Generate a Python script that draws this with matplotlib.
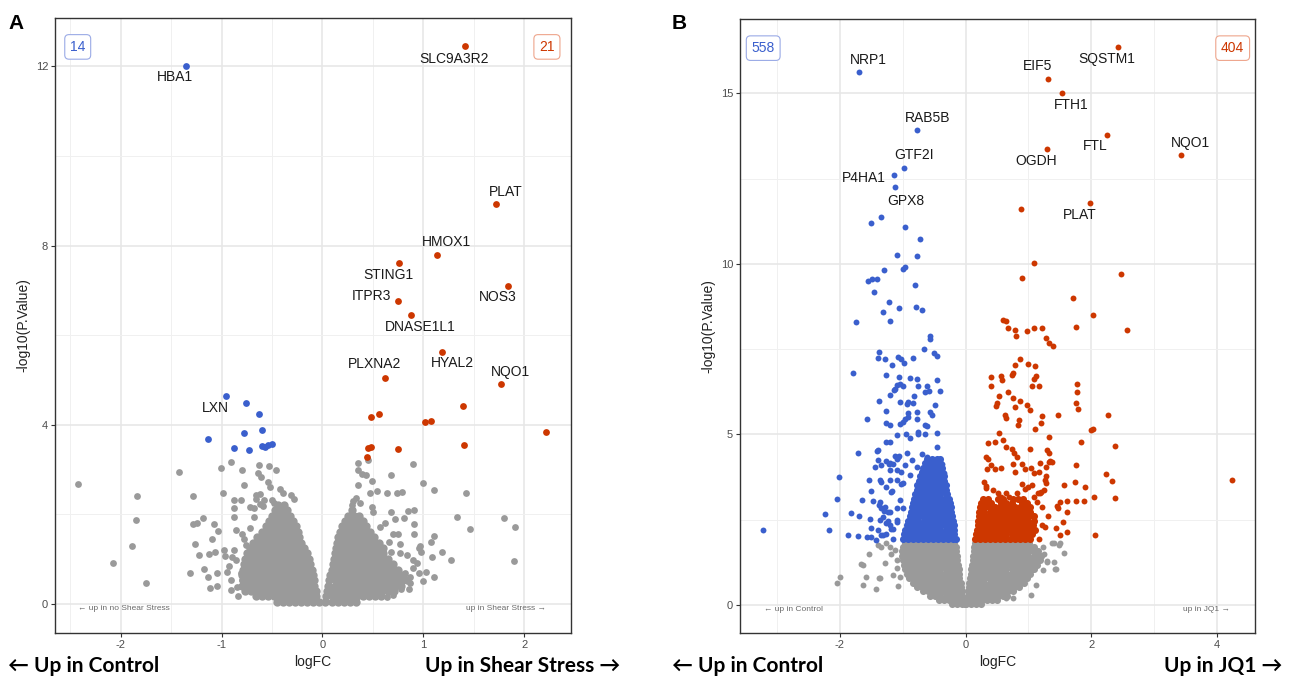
import matplotlib
matplotlib.use('Agg')
import matplotlib.pyplot as plt
import numpy as np

plt.rcParams['font.family'] = ['Liberation Sans', 'DejaVu Sans']
plt.rcParams['axes.unicode_minus'] = False

GRAY = '#9a9a9a'
BLUE = '#3a5fcd'
RED = '#cd3700'

# ---------------- Panel A data (logFC, -log10 P) ----------------
a_up_genes = ['SLC9A3R2', 'PLAT', 'HMOX1', 'STING1', 'NOS3', 'ITPR3', 'DNASE1L1',
              'HYAL2', 'PLXNA2', 'NQO1']
a_up_x = [1.41, 1.72, 1.14, 0.76, 1.84, 0.75, 0.875, 1.19, 0.62, 1.77]
a_up_y = [12.46, 8.92, 7.80, 7.61, 7.10, 6.76, 6.45, 5.625, 5.05, 4.90]
a_up_other = [(1.39, 4.42), (0.485, 4.17), (0.565, 4.23), (1.02, 4.06), (1.08, 4.08),
              (2.22, 3.85), (0.455, 3.49), (0.48, 3.50), (0.75, 3.46), (1.40, 3.56),
              (0.445, 3.28)]
a_down_genes = ['HBA1', 'LXN']
a_down_x = [-1.349, -0.96]
a_down_y = [12.02, 4.64]
a_down_other = [(-0.76, 4.49), (-0.63, 4.23), (-1.135, 3.68), (-0.78, 3.81), (-0.60, 3.88),
                (-0.88, 3.48), (-0.726, 3.43), (-0.60, 3.53), (-0.567, 3.51), (-0.535, 3.54),
                (-0.50, 3.58)]
a_gray_scatter = [
    (-2.42, 2.67), (-1.84, 2.40), (-1.85, 1.87), (-1.89, 1.29), (-2.08, 0.92), (-1.75, 0.46),
    (-1.42, 2.95), (-1.28, 2.40), (-1.01, 3.04), (-0.91, 3.18), (-0.80, 2.99), (-0.63, 3.10),
    (-0.53, 3.07), (-0.46, 2.99), (-0.64, 2.93), (-0.61, 2.84), (-0.78, 2.66), (-0.54, 2.73),
    (-0.52, 2.62), (-0.42, 2.57), (-0.99, 2.48), (-0.88, 2.32), (-0.81, 2.32), (-0.66, 2.43),
    (-0.62, 2.46), (-0.66, 2.34), (-0.58, 2.32), (-0.39, 2.47), (-0.31, 2.43), (-0.28, 2.34),
    (-0.88, 2.15), (-0.72, 2.17), (-0.68, 2.15), (-0.62, 2.23), (-0.59, 2.19), (-0.50, 2.32),
    (-0.48, 2.25), (-0.41, 2.17), (-0.42, 2.06), (-0.88, 1.95), (-0.68, 1.95), (-1.18, 1.91),
    (-1.24, 1.80), (-1.28, 1.79), (-1.07, 1.78), (-1.03, 1.63), (-0.86, 1.65), (-0.72, 1.70),
    (-1.26, 1.35), (-1.09, 1.44), (-0.80, 1.56), (-0.78, 1.44), (-0.76, 1.32), (-1.22, 1.09),
    (-1.12, 1.11), (-1.06, 1.15), (-0.98, 1.21), (-0.97, 1.08), (-0.86, 0.99), (-1.31, 0.69),
    (-1.17, 0.78), (-1.13, 0.61), (-1.04, 0.69), (-1.11, 0.35), (-1.04, 0.41), (-0.91, 0.54),
    (-0.91, 0.31), (-0.81, 0.69), (-0.80, 0.54), (-0.93, 0.85), (-0.95, 0.72), (-0.85, 0.38),
    (-0.84, 0.18), (-0.88, 1.20), (-0.90, 1.05),
    (0.35, 3.15), (0.45, 3.21), (0.35, 2.99), (0.39, 2.90), (0.43, 2.89), (0.49, 2.75),
    (0.35, 2.66), (0.68, 2.89), (0.90, 3.13), (1.00, 2.69), (1.11, 2.54), (1.42, 2.47),
    (0.47, 2.47), (0.54, 2.52), (0.64, 2.48), (0.74, 2.48), (0.79, 2.51), (0.33, 2.36),
    (0.37, 2.25), (0.49, 2.17), (0.50, 2.06), (0.68, 2.05), (0.85, 2.08), (0.91, 2.09),
    (0.72, 1.90), (0.81, 1.91), (1.33, 1.94), (1.46, 1.67), (0.91, 1.79), (0.57, 1.71),
    (0.70, 1.57), (0.75, 1.56), (0.91, 1.57), (1.11, 1.52), (1.08, 1.39), (0.66, 1.38),
    (0.77, 1.34), (0.97, 1.30), (0.68, 1.15), (0.77, 1.14), (0.84, 1.09), (0.96, 1.24),
    (0.98, 1.15), (1.09, 1.04), (1.19, 1.15), (1.27, 0.99), (0.90, 0.98), (0.94, 0.92),
    (0.96, 0.70), (1.03, 0.72), (1.11, 0.61), (1.00, 0.51), (0.87, 0.61), (0.87, 0.46),
    (0.78, 0.34), (0.86, 0.33), (0.64, 0.15), (1.80, 1.93), (1.91, 1.72), (1.90, 0.97),
    (0.30, 2.30), (0.29, 2.20), (0.62, 1.80), (0.82, 0.70), (0.70, 0.20), (0.90, 0.80)]
# dense core of non-significant genes, read row by row (-log10 P : logFC values)
a_gray_core = {
    0.05: [-0.45, -0.39, -0.33, -0.27, -0.21, -0.15, -0.09, -0.03, 0.03, 0.09, 0.15, 0.21, 0.27, 0.33],
    0.17: [-0.66, -0.60, -0.54, -0.48, -0.42, -0.36, -0.30, -0.24, -0.18, -0.12, -0.06,
           0.04, 0.10, 0.16, 0.22, 0.28, 0.34, 0.40, 0.46, 0.52, 0.58],
    0.29: [-0.77, -0.71, -0.65, -0.59, -0.53, -0.47, -0.41, -0.35, -0.29, -0.23, -0.17, -0.11, -0.06,
           0.05, 0.11, 0.17, 0.23, 0.29, 0.35, 0.41, 0.47, 0.53, 0.59, 0.65, 0.71],
    0.41: [-0.80, -0.74, -0.68, -0.62, -0.56, -0.50, -0.44, -0.38, -0.32, -0.26, -0.20, -0.14, -0.08,
           0.06, 0.12, 0.18, 0.24, 0.30, 0.36, 0.42, 0.48, 0.54, 0.60, 0.66, 0.72, 0.78],
    0.53: [-0.79, -0.73, -0.67, -0.61, -0.55, -0.49, -0.43, -0.37, -0.31, -0.25, -0.19, -0.13, -0.08,
           0.07, 0.13, 0.19, 0.25, 0.31, 0.37, 0.43, 0.49, 0.55, 0.61, 0.67, 0.73, 0.79, 0.84],
    0.65: [-0.80, -0.74, -0.68, -0.62, -0.56, -0.50, -0.44, -0.38, -0.32, -0.26, -0.20, -0.14, -0.09,
           0.08, 0.14, 0.20, 0.26, 0.32, 0.38, 0.44, 0.50, 0.56, 0.62, 0.68, 0.74, 0.80],
    0.77: [-0.79, -0.73, -0.67, -0.61, -0.55, -0.49, -0.43, -0.37, -0.31, -0.25, -0.19, -0.13, -0.10,
           0.09, 0.15, 0.21, 0.27, 0.33, 0.39, 0.45, 0.51, 0.57, 0.63, 0.69, 0.75],
    0.89: [-0.78, -0.72, -0.66, -0.60, -0.54, -0.48, -0.42, -0.36, -0.30, -0.24, -0.18, -0.12,
           0.10, 0.16, 0.22, 0.28, 0.34, 0.40, 0.46, 0.52, 0.58, 0.64, 0.70],
    1.01: [-0.77, -0.71, -0.65, -0.59, -0.53, -0.47, -0.41, -0.35, -0.29, -0.23, -0.17, -0.13,
           0.11, 0.17, 0.23, 0.29, 0.35, 0.41, 0.47, 0.53, 0.59, 0.65],
    1.13: [-0.75, -0.69, -0.63, -0.57, -0.51, -0.45, -0.39, -0.33, -0.27, -0.21, -0.15,
           0.12, 0.18, 0.24, 0.30, 0.36, 0.42, 0.48, 0.54, 0.60],
    1.25: [-0.72, -0.66, -0.60, -0.54, -0.48, -0.42, -0.36, -0.30, -0.24, -0.18,
           0.13, 0.19, 0.25, 0.31, 0.37, 0.43, 0.49, 0.55, 0.60],
    1.37: [-0.69, -0.63, -0.57, -0.51, -0.45, -0.39, -0.33, -0.27, -0.21,
           0.14, 0.20, 0.26, 0.32, 0.38, 0.44, 0.50, 0.56],
    1.49: [-0.65, -0.59, -0.53, -0.47, -0.41, -0.35, -0.29, -0.23,
           0.15, 0.21, 0.27, 0.33, 0.39, 0.45, 0.51],
    1.61: [-0.60, -0.54, -0.48, -0.42, -0.36, -0.30, -0.24, 0.17, 0.23, 0.29, 0.35, 0.41, 0.47],
    1.73: [-0.56, -0.50, -0.44, -0.38, -0.32, -0.26, 0.19, 0.25, 0.31, 0.37, 0.43],
    1.85: [-0.53, -0.47, -0.41, -0.35, -0.29, 0.22, 0.28, 0.34, 0.40],
    1.97: [-0.50, -0.44, -0.38, -0.32, 0.25, 0.31, 0.36],
    2.09: [-0.47, -0.41, -0.35, 0.29],
    2.21: [-0.44, -0.38],
}

# ---------------- Panel B data ----------------
b_up_genes = ['SQSTM1', 'EIF5', 'FTH1', 'FTL', 'OGDH', 'NQO1', 'PLAT']
b_up_x = [2.43, 1.315, 1.53, 2.245, 1.29, 3.42, 1.98]
b_up_y = [16.37, 15.43, 15.01, 13.78, 13.37, 13.20, 11.79]
b_down_genes = ['NRP1', 'RAB5B', 'GTF2I', 'P4HA1', 'GPX8']
b_down_x = [-1.70, -0.77, -0.98, -1.14, -1.12]
b_down_y = [15.64, 13.93, 12.82, 12.62, 12.24]
b_up_other = [
    (0.876, 11.60), (1.09, 10.02), (0.90, 9.60), (2.47, 9.69), (1.71, 9.00), (2.02, 8.50),
    (1.76, 8.14), (2.57, 8.06), (0.59, 8.36), (0.64, 8.33), (0.67, 8.12), (0.79, 8.06),
    (0.80, 7.89), (0.97, 8.04), (1.09, 8.13), (1.21, 8.13), (1.28, 7.84), (1.32, 7.67),
    (1.39, 7.60), (0.87, 7.20), (0.79, 7.04), (0.76, 6.79), (0.74, 6.74), (0.99, 7.08),
    (1.10, 7.01), (1.12, 6.71), (1.08, 6.62), (1.06, 6.43), (1.16, 6.42), (0.40, 6.68),
    (0.41, 6.41), (0.57, 6.72), (0.58, 6.60), (0.67, 6.25), (0.76, 6.08), (0.87, 5.97),
    (0.53, 6.13), (0.50, 5.92), (0.48, 5.84), (0.79, 5.80), (0.98, 5.86), (1.02, 5.72),
    (0.63, 5.58), (0.64, 5.49), (0.85, 5.43), (0.83, 5.28), (1.22, 5.54), (1.20, 5.33),
    (1.11, 5.16), (1.47, 5.57), (1.77, 6.48), (1.77, 6.24), (1.76, 5.91), (1.78, 5.75),
    (2.26, 5.56), (2.00, 5.13), (2.02, 5.15), (2.37, 4.66), (2.23, 3.83), (2.33, 3.65),
    (2.37, 3.15), (2.05, 3.18), (1.90, 3.45), (1.74, 3.61), (1.83, 4.79), (1.75, 4.11),
    (1.32, 4.94), (2.06, 2.04), (1.57, 3.52), (1.88, 3.06), (1.76, 3.06), (1.62, 3.06),
    (1.50, 3.03), (1.47, 2.84), (1.45, 2.90), (1.62, 2.72), (1.55, 2.44), (1.61, 2.15),
    (1.50, 2.04), (1.44, 2.27), (1.17, 1.93), (1.30, 4.55), (1.37, 4.19), (1.33, 4.19),
    (1.18, 4.16), (1.02, 4.57), (1.28, 4.06), (1.26, 3.67), (1.28, 3.57), (1.20, 3.32),
    (1.15, 3.28), (1.14, 3.03), (1.22, 2.88), (1.21, 2.35), (1.27, 2.30), (1.31, 2.62),
    (4.245, 3.67),
    (0.53, 5.03), (0.36, 4.76), (0.47, 4.79), (0.60, 4.84), (0.36, 4.27), (0.41, 4.11),
    (0.47, 3.98), (0.57, 4.01), (0.64, 4.64), (0.73, 4.57), (0.77, 4.45), (0.81, 4.35),
    (0.76, 4.13), (0.79, 3.91), (0.89, 4.13), (0.94, 3.98), (1.04, 4.01), (1.08, 3.86),
    (1.16, 3.89), (1.32, 4.45), (1.35, 4.21), (1.28, 3.78), (1.24, 3.37), (0.33, 3.43),
    (0.44, 3.37), (0.51, 3.28), (0.65, 3.28), (0.69, 3.16), (0.81, 3.28), (0.89, 3.55),
    (0.94, 3.39), (1.00, 3.47), (1.05, 3.51), (1.09, 3.18), (1.18, 3.28), (0.86, 3.08),
    (0.57, 3.18), (0.33, 4.35), (0.34, 4.00), (0.33, 3.50), (0.30, 3.62)]
b_down_other = [
    (-1.51, 11.20), (-1.35, 11.38), (-0.97, 11.08), (-0.73, 10.73), (-1.09, 10.25),
    (-0.78, 10.23), (-1.00, 9.85), (-0.96, 9.92), (-1.30, 9.81), (-1.56, 9.50), (-1.49, 9.57),
    (-1.41, 9.56), (-1.46, 9.19), (-0.80, 9.37), (-1.22, 8.89), (-1.06, 8.70), (-0.79, 8.73),
    (-0.70, 8.66), (-1.32, 8.58), (-1.20, 8.34), (-1.75, 8.29), (-0.56, 7.90), (-0.56, 7.79),
    (-0.66, 7.50), (-0.50, 7.38), (-0.45, 7.30), (-1.38, 7.42), (-1.39, 7.25), (-1.29, 7.20),
    (-1.17, 7.04), (-1.08, 7.26), (-1.03, 7.21), (-0.98, 7.09), (-0.83, 7.23), (-1.80, 6.79),
    (-1.27, 6.74), (-1.06, 6.68), (-0.88, 6.66), (-0.77, 6.63), (-0.45, 6.60), (-1.10, 6.45),
    (-1.04, 6.49), (-1.14, 6.30), (-0.99, 6.41), (-1.13, 6.33), (-0.76, 6.42), (-0.62, 6.42),
    (-0.65, 6.25), (-0.59, 6.28), (-0.40, 6.28), (-1.21, 6.15), (-0.82, 6.14), (-1.38, 5.97),
    (-1.04, 5.96), (-0.94, 5.89), (-0.91, 5.95), (-0.83, 5.91), (-0.48, 5.86), (-1.26, 5.68),
    (-0.92, 5.62), (-0.77, 5.66), (-0.57, 5.66), (-0.54, 5.57), (-1.57, 5.46), (-0.97, 5.45),
    (-0.91, 5.50), (-0.78, 5.45), (-1.27, 5.34), (-1.21, 5.29), (-1.05, 5.30), (-0.99, 5.37),
    (-0.64, 5.29), (-0.62, 5.25), (-0.76, 5.08), (-0.75, 5.01), (-0.65, 5.01), (-0.46, 5.04),
    (-1.09, 4.97), (-0.95, 5.01), (-0.89, 4.89), (-1.21, 4.78), (-1.41, 4.53), (-1.72, 4.47),
    (-1.44, 4.06), (-1.54, 3.66), (-1.51, 3.35), (-1.65, 3.08), (-2.02, 3.76), (-2.04, 3.12),
    (-2.24, 2.67), (-2.17, 2.19), (-1.82, 2.69), (-1.69, 2.62), (-1.52, 2.53), (-1.87, 2.05),
    (-1.72, 2.01), (-1.57, 1.99), (-1.51, 2.26), (-1.39, 4.25), (-1.26, 4.22), (-1.21, 4.15),
    (-1.10, 4.27), (-1.06, 4.37), (-0.94, 4.45), (-0.86, 4.25), (-1.21, 3.96), (-1.03, 3.91),
    (-0.97, 4.11), (-0.89, 3.81), (-0.70, 4.43), (-0.62, 4.35), (-0.52, 4.25), (-0.46, 4.64),
    (-0.38, 4.13), (-0.35, 3.86), (-1.34, 3.62), (-1.26, 3.47), (-1.18, 3.32), (-1.10, 3.67),
    (-0.99, 3.57), (-0.78, 4.06), (-0.57, 3.86), (-1.36, 3.03), (-1.29, 2.88), (-1.21, 2.74),
    (-1.10, 2.84), (-1.36, 2.49), (-1.26, 2.40), (-1.18, 2.22), (-1.31, 2.05), (-1.42, 1.91),
    (-1.50, 2.00), (-3.22, 2.19), (-1.47, 3.04), (-1.40, 4.54), (-1.39, 2.20), (-1.38, 2.94),
    (-1.34, 2.84), (-1.30, 2.77), (-1.23, 2.74), (-1.36, 3.66), (-1.35, 4.11), (-1.32, 2.59),
    (-1.27, 4.77), (-1.22, 4.13), (-1.20, 3.66), (-1.17, 3.33), (-1.16, 4.13), (-1.12, 4.38),
    (-1.09, 3.96), (-1.07, 4.33), (-1.24, 2.45), (-1.21, 2.34), (-1.15, 2.22), (-1.09, 2.50),
    (-1.03, 3.54), (-1.04, 3.08), (-1.00, 2.85), (-1.35, 2.05), (-1.27, 2.08), (-1.15, 1.94),
    (-1.09, 2.43)]
b_down_core = {
    1.95: [-1.00, -0.92, -0.84, -0.76, -0.68, -0.60, -0.52, -0.44, -0.36, -0.28, -0.20, -0.16],
    2.08: [-0.98, -0.90, -0.82, -0.74, -0.66, -0.58, -0.50, -0.42, -0.34, -0.26, -0.18],
    2.21: [-0.96, -0.88, -0.80, -0.72, -0.64, -0.56, -0.48, -0.40, -0.32, -0.24, -0.18],
    2.34: [-0.94, -0.86, -0.78, -0.70, -0.62, -0.54, -0.46, -0.38, -0.30, -0.22, -0.19],
    2.47: [-0.91, -0.83, -0.75, -0.67, -0.59, -0.51, -0.43, -0.35, -0.27, -0.20],
    2.60: [-0.89, -0.81, -0.73, -0.65, -0.57, -0.49, -0.41, -0.33, -0.25, -0.21],
    2.73: [-0.87, -0.79, -0.71, -0.63, -0.55, -0.47, -0.39, -0.31, -0.23],
    2.86: [-0.85, -0.77, -0.69, -0.61, -0.53, -0.45, -0.37, -0.29, -0.24],
    2.99: [-0.84, -0.76, -0.68, -0.60, -0.52, -0.44, -0.36, -0.28, -0.25],
    3.12: [-0.82, -0.74, -0.66, -0.58, -0.50, -0.42, -0.34, -0.27],
    3.25: [-0.80, -0.72, -0.64, -0.56, -0.48, -0.40, -0.32, -0.29],
    3.38: [-0.78, -0.70, -0.62, -0.54, -0.46, -0.38, -0.31],
    3.51: [-0.77, -0.69, -0.61, -0.53, -0.45, -0.37, -0.32],
    3.64: [-0.74, -0.66, -0.58, -0.50, -0.42, -0.34],
    3.77: [-0.72, -0.64, -0.56, -0.48, -0.40, -0.35],
    3.90: [-0.70, -0.62, -0.54, -0.46, -0.38],
    4.03: [-0.68, -0.60, -0.52, -0.44, -0.38],
    4.16: [-0.65, -0.57, -0.49, -0.41],
    4.29: [-0.62, -0.54, -0.46, -0.41],
}
b_up_core = {
    1.95: [0.15, 0.23, 0.31, 0.39, 0.47, 0.55, 0.63, 0.71, 0.79, 0.87, 0.95, 1.03],
    2.08: [0.17, 0.25, 0.33, 0.41, 0.49, 0.57, 0.65, 0.73, 0.81, 0.89, 0.97, 1.05],
    2.21: [0.18, 0.26, 0.34, 0.42, 0.50, 0.58, 0.66, 0.74, 0.82, 0.90, 0.98, 1.06, 1.10],
    2.34: [0.19, 0.27, 0.35, 0.43, 0.51, 0.59, 0.67, 0.75, 0.83, 0.91, 0.99, 1.07],
    2.47: [0.20, 0.28, 0.36, 0.44, 0.52, 0.60, 0.68, 0.76, 0.84, 0.92, 1.00, 1.08],
    2.60: [0.21, 0.29, 0.37, 0.45, 0.53, 0.61, 0.69, 0.77, 0.85, 0.93, 1.01, 1.09],
    2.73: [0.22, 0.30, 0.38, 0.46, 0.54, 0.62, 0.70, 0.78, 0.86, 0.94, 1.02],
    2.86: [0.23, 0.31, 0.39, 0.47, 0.55, 0.63, 0.71, 0.79, 0.87, 0.95, 1.03],
    2.99: [0.25, 0.33, 0.41, 0.57, 0.65, 0.73, 0.89, 0.97],
    3.12: [0.27, 0.35, 0.51, 0.59, 0.75, 0.83, 0.91],
}
b_gray_scatter = [
    (-2.05, 0.65), (-2.00, 0.83), (-1.63, 0.59), (-1.59, 0.83), (-1.64, 1.17), (-1.53, 1.50),
    (-1.42, 0.47), (-1.36, 0.80), (-1.39, 1.76), (-1.34, 1.71), (-1.26, 1.81), (-1.15, 0.88),
    (-1.07, 0.57), (-1.05, 0.83), (-1.18, 1.50), (-1.10, 1.32), (-1.29, 1.22), (-1.38, 0.78),
    (-1.67, 1.20), (-1.20, 1.70), (-1.12, 1.60), (-1.10, 1.10),
    (1.40, 1.81), (1.49, 1.76), (1.57, 1.52), (1.23, 1.71), (1.30, 1.27), (1.40, 1.27),
    (1.42, 1.05), (1.23, 1.03), (1.04, 0.29), (0.65, 0.20), (0.76, 0.20), (1.50, 1.81),
    (1.37, 1.81), (1.29, 1.29), (1.44, 1.06), (1.12, 0.60), (1.25, 1.50)]
b_gray_core = {
    1.83: [-0.97, -0.89, -0.81, -0.73, -0.65, -0.57, -0.49, -0.41, -0.33, -0.25, -0.18,
           0.15, 0.23, 0.31, 0.39, 0.47, 0.55, 0.63, 0.71, 0.79, 0.87, 0.95, 1.01],
    1.70: [-1.00, -0.92, -0.84, -0.76, -0.68, -0.60, -0.52, -0.44, -0.36, -0.28, -0.20, -0.16,
           0.14, 0.22, 0.30, 0.38, 0.46, 0.54, 0.62, 0.70, 0.78, 0.86, 0.94, 1.02, 1.08],
    1.57: [-1.02, -0.94, -0.86, -0.78, -0.70, -0.62, -0.54, -0.46, -0.38, -0.30, -0.22, -0.15,
           0.13, 0.21, 0.29, 0.37, 0.45, 0.53, 0.61, 0.69, 0.77, 0.85, 0.93, 1.01, 1.09, 1.15],
    1.44: [-1.01, -0.93, -0.85, -0.77, -0.69, -0.61, -0.53, -0.45, -0.37, -0.29, -0.21, -0.14,
           0.12, 0.20, 0.28, 0.36, 0.44, 0.52, 0.60, 0.68, 0.76, 0.84, 0.92, 1.00, 1.08, 1.16, 1.20],
    1.31: [-1.00, -0.92, -0.84, -0.76, -0.68, -0.60, -0.52, -0.44, -0.36, -0.28, -0.20, -0.13,
           0.11, 0.19, 0.27, 0.35, 0.43, 0.51, 0.59, 0.67, 0.75, 0.83, 0.91, 0.99, 1.07, 1.15, 1.19],
    1.18: [-0.98, -0.90, -0.82, -0.74, -0.66, -0.58, -0.50, -0.42, -0.34, -0.26, -0.18, -0.12,
           0.10, 0.18, 0.26, 0.34, 0.42, 0.50, 0.58, 0.66, 0.74, 0.82, 0.90, 0.98, 1.06, 1.13],
    1.05: [-0.96, -0.88, -0.80, -0.72, -0.64, -0.56, -0.48, -0.40, -0.32, -0.24, -0.16, -0.11,
           0.09, 0.17, 0.25, 0.33, 0.41, 0.49, 0.57, 0.65, 0.73, 0.81, 0.89, 0.97, 1.05, 1.08],
    0.92: [-0.94, -0.86, -0.78, -0.70, -0.62, -0.54, -0.46, -0.38, -0.30, -0.22, -0.14, -0.10,
           0.08, 0.16, 0.24, 0.32, 0.40, 0.48, 0.56, 0.64, 0.72, 0.80, 0.88, 0.96, 1.03],
    0.79: [-0.90, -0.82, -0.74, -0.66, -0.58, -0.50, -0.42, -0.34, -0.26, -0.18, -0.10,
           0.07, 0.15, 0.23, 0.31, 0.39, 0.47, 0.55, 0.63, 0.71, 0.79, 0.87, 0.95, 0.98],
    0.66: [-0.84, -0.76, -0.68, -0.60, -0.52, -0.44, -0.36, -0.28, -0.20, -0.12, -0.08,
           0.06, 0.14, 0.22, 0.30, 0.38, 0.46, 0.54, 0.62, 0.70, 0.78, 0.86, 0.93],
    0.53: [-0.77, -0.69, -0.61, -0.53, -0.45, -0.37, -0.29, -0.21, -0.13, -0.07,
           0.05, 0.13, 0.21, 0.29, 0.37, 0.45, 0.53, 0.61, 0.69, 0.77, 0.85],
    0.40: [-0.68, -0.60, -0.52, -0.44, -0.36, -0.28, -0.20, -0.12, -0.06,
           0.04, 0.12, 0.20, 0.28, 0.36, 0.44, 0.52, 0.60, 0.68, 0.76],
    0.27: [-0.56, -0.48, -0.40, -0.32, -0.24, -0.16, -0.08, -0.05,
           0.03, 0.11, 0.19, 0.27, 0.35, 0.43, 0.51, 0.59, 0.66],
    0.14: [-0.42, -0.34, -0.26, -0.18, -0.10, -0.03, 0.02, 0.10, 0.18, 0.26, 0.34, 0.42, 0.50],
    0.03: [-0.22, -0.14, -0.06, -0.01, 0.01, 0.09, 0.17, 0.25],
}

# label text anchors (data coords) for the gene names
a_label_pos = {'SLC9A3R2': (1.30, 12.17), 'PLAT': (1.82, 9.20), 'HMOX1': (1.23, 8.07),
               'STING1': (0.65, 7.34), 'NOS3': (1.74, 6.85), 'ITPR3': (0.49, 6.875),
               'DNASE1L1': (0.97, 6.19), 'HYAL2': (1.29, 5.37), 'PLXNA2': (0.52, 5.35),
               'NQO1': (1.865, 5.17), 'HBA1': (-1.457, 11.76), 'LXN': (-1.06, 4.37)}
b_label_pos = {'SQSTM1': (2.25, 16.01), 'EIF5': (1.14, 15.81), 'FTH1': (1.677, 14.65),
               'FTL': (2.07, 13.47), 'OGDH': (1.12, 13.02), 'NQO1': (3.57, 13.54),
               'PLAT': (1.81, 11.44), 'NRP1': (-1.55, 15.98), 'RAB5B': (-0.61, 14.27),
               'GTF2I': (-0.82, 13.20), 'P4HA1': (-1.62, 12.51), 'GPX8': (-0.955, 11.85)}
a_counts = (14, 21)
b_counts = (558, 404)


def rows_xy(rows):
    xs, ys = [], []
    for yv, xl in rows.items():
        xs.extend(xl)
        ys.extend([yv] * len(xl))
    return np.array(xs), np.array(ys)


def pairs_xy(p):
    arr = np.array(p)
    return arr[:, 0], arr[:, 1]


def style(ax, xlim, ylim, xmaj, xmin, ymaj, ymin):
    ax.set_xlim(*xlim)
    ax.set_ylim(*ylim)
    ax.set_xticks(xmaj)
    ax.set_xticks(xmin, minor=True)
    ax.set_yticks(ymaj)
    ax.set_yticks(ymin, minor=True)
    ax.grid(which='major', color='#e6e6e6', lw=1.1)
    ax.grid(which='minor', color='#f0f0f0', lw=0.7)
    ax.set_axisbelow(True)
    ax.tick_params(which='major', length=3, width=0.8, color='#333333', labelsize=8,
                   labelcolor='#4d4d4d', pad=2)
    ax.tick_params(which='minor', length=0)
    for s in ax.spines.values():
        s.set_color('#333333')
        s.set_linewidth(1.0)
    ax.set_xlabel('logFC', fontsize=10, color='#222222', labelpad=4)
    ax.set_ylabel('-log10(P.Value)', fontsize=10, color='#222222', labelpad=4)


def count_box(ax, xf, n, col, edge):
    ax.text(xf, 0.953, str(n), transform=ax.transAxes, ha='center', va='center',
            fontsize=10, color=col, zorder=5,
            bbox=dict(boxstyle='round,pad=0.38,rounding_size=0.3', fc='white', ec=edge, lw=0.8))


fig = plt.figure(figsize=(12.89, 6.80), dpi=100)
axA = fig.add_axes([0.0427, 0.0696, 0.4000, 0.9039])
axB = fig.add_axes([0.5741, 0.0696, 0.3998, 0.9020])

# ---- panel A ----
sA = 24
gx, gy = rows_xy(a_gray_core)
axA.scatter(gx, gy, s=36, c=GRAY, lw=0, zorder=2)
gx, gy = pairs_xy(a_gray_scatter)
axA.scatter(gx, gy, s=sA, c=GRAY, lw=0, zorder=2)
bx, by = pairs_xy(a_down_other)
axA.scatter(list(bx) + a_down_x, list(by) + a_down_y, s=sA, c=BLUE, lw=0, zorder=3)
rx, ry = pairs_xy(a_up_other)
axA.scatter(list(rx) + a_up_x, list(ry) + a_up_y, s=sA, c=RED, lw=0, zorder=3)
for g, (lx, ly) in a_label_pos.items():
    axA.text(lx, ly, g, ha='center', va='center', fontsize=10, color='#1a1a1a', zorder=4)
style(axA, (-2.65, 2.46), (-0.64, 13.08), [-2, -1, 0, 1, 2], [-2.5, -1.5, -0.5, 0.5, 1.5],
      [0, 4, 8, 12], [2, 6, 10])
count_box(axA, 0.044, a_counts[0], BLUE, '#9aaae6')
count_box(axA, 0.954, a_counts[1], RED, '#eea58c')
axA.text(0.0446, 0.0397, '\u2190 up in no Shear Stress', transform=axA.transAxes,
         ha='left', va='center', fontsize=6, color='#6a6a6a')
axA.text(0.951, 0.0397, 'up in Shear Stress \u2192', transform=axA.transAxes,
         ha='right', va='center', fontsize=6, color='#6a6a6a')

# ---- panel B ----
sB = 18
sBc = 26
gx, gy = rows_xy(b_gray_core)
axB.scatter(gx, gy, s=sBc, c=GRAY, lw=0, zorder=2)
gx, gy = pairs_xy(b_gray_scatter)
axB.scatter(gx, gy, s=sB, c=GRAY, lw=0, zorder=2)
bx, by = rows_xy(b_down_core)
axB.scatter(bx, by, s=sBc, c=BLUE, lw=0, zorder=3)
bx, by = pairs_xy(b_down_other)
axB.scatter(list(bx) + b_down_x, list(by) + b_down_y, s=sB, c=BLUE, lw=0, zorder=3)
rx, ry = rows_xy(b_up_core)
axB.scatter(rx, ry, s=sBc, c=RED, lw=0, zorder=3)
rx, ry = pairs_xy(b_up_other)
axB.scatter(list(rx) + b_up_x, list(ry) + b_up_y, s=sB, c=RED, lw=0, zorder=3)
for g, (lx, ly) in b_label_pos.items():
    axB.text(lx, ly, g, ha='center', va='center', fontsize=10, color='#1a1a1a', zorder=4)
style(axB, (-3.59, 4.61), (-0.81, 17.17), [-2, 0, 2, 4], [-3, -1, 1, 3],
      [0, 5, 10, 15], [2.5, 7.5, 12.5])
count_box(axB, 0.045, b_counts[0], BLUE, '#9aaae6')
count_box(axB, 0.956, b_counts[1], RED, '#eea58c')
axB.text(0.0466, 0.038, '\u2190 up in Control', transform=axB.transAxes,
         ha='left', va='center', fontsize=6, color='#6a6a6a')
axB.text(0.951, 0.038, 'up in JQ1 \u2192', transform=axB.transAxes,
         ha='right', va='center', fontsize=6, color='#6a6a6a')

# panel letters
fig.text(0.0062, 0.965, 'A', fontsize=15, fontweight='bold', ha='left', va='center')
fig.text(0.5213, 0.965, 'B', fontsize=15, fontweight='bold', ha='left', va='center')

# direction captions
cap = dict(fontsize=15, fontweight='bold', va='center', color='black',
           family=['Lato', 'DejaVu Sans'])
fig.text(0.0062, 0.0206, '\u2190 Up in Control', ha='left', **cap)
fig.text(0.481, 0.0206, 'Up in Shear Stress \u2192', ha='right', **cap)
fig.text(0.5213, 0.0206, '\u2190 Up in Control', ha='left', **cap)
fig.text(0.9946, 0.0206, 'Up in JQ1 \u2192', ha='right', **cap)

fig.savefig('out.png', dpi=100)
